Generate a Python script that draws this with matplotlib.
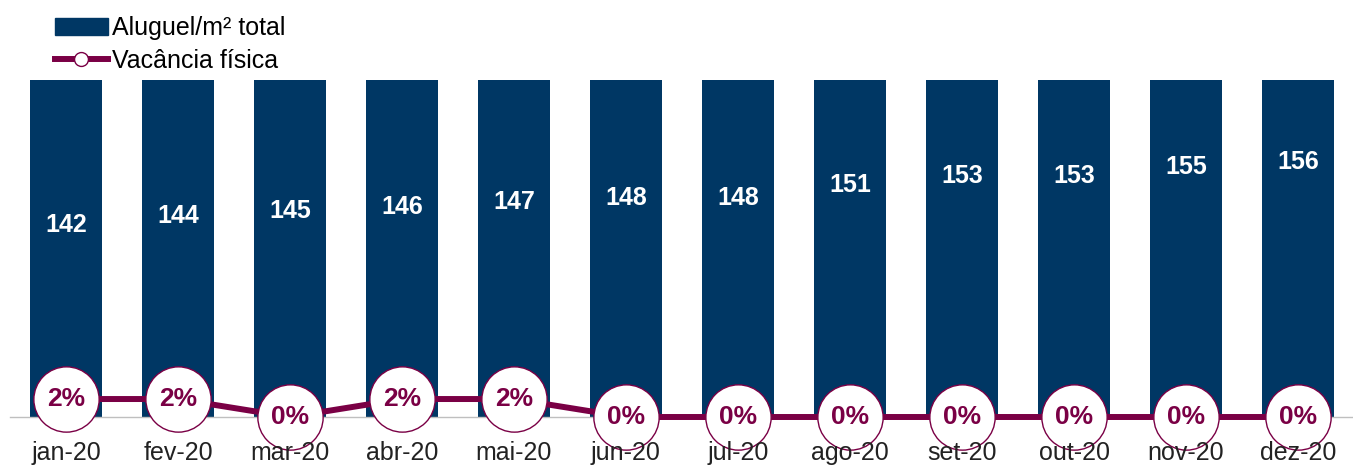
import numpy as np
import matplotlib.pyplot as plt
from matplotlib.patches import Patch
from matplotlib.lines import Line2D

plt.rcParams['font.family'] = ['Liberation Sans', 'DejaVu Sans']

months = ['jan-20', 'fev-20', 'mar-20', 'abr-20', 'mai-20', 'jun-20',
          'jul-20', 'ago-20', 'set-20', 'out-20', 'nov-20', 'dez-20']
aluguel = [142, 144, 145, 146, 147, 148, 148, 151, 153, 153, 155, 156]
vacancia = [0.02, 0.02, 0.0, 0.02, 0.02, 0.0, 0.0, 0.0, 0.0, 0.0, 0.0, 0.0]

navy = '#003764'
purple = '#7A0045'

fig = plt.figure(figsize=(13.53, 4.67), dpi=100)
ax = fig.add_axes([10 / 1353, 50 / 467, 1344 / 1353, 337 / 467])
x = np.arange(len(months))

ax.bar(x, aluguel, width=0.634, color=navy)
ax.set_ylim(98, 136)
ax.set_xlim(-0.5, len(months) - 0.5)
ymin = ax.get_ylim()[0]
for xi, v in zip(x, aluguel):
    ax.text(xi, (ymin + v) / 2 - 0.3, f'{v}', ha='center', va='center',
            color='white', fontsize=18, fontweight='bold')

for s in ['top', 'right', 'left']:
    ax.spines[s].set_visible(False)
ax.spines['bottom'].set_color('#BFBFBF')
ax.spines['bottom'].set_linewidth(1)
ax.set_yticks([])
ax.tick_params(axis='x', length=0, labelbottom=False)

ax2 = ax.twinx()
ax2.plot(x, vacancia, color=purple, lw=4.3, marker='o', markersize=47,
         markerfacecolor='white', markeredgecolor=purple, markeredgewidth=1,
         clip_on=False, zorder=3)
ax2.set_ylim(0, 0.375)
for xi, v in zip(x, vacancia):
    ax2.text(xi, v, f'{v:.0%}', ha='center', va='center', color=purple,
             fontsize=19, fontweight='bold', zorder=5, clip_on=False)
for s in ax2.spines.values():
    s.set_visible(False)
ax2.set_yticks([])
ax2.xaxis.set_visible(True)
ax2.xaxis.set_zorder(6)
ax2.set_xticks(x)
ax2.set_xticklabels(months, fontsize=18, color='#222222')
ax2.tick_params(axis='x', length=0, pad=17)

handles = [Patch(color=navy, label='Aluguel/m² total'),
           Line2D([], [], color=purple, lw=4.3, marker='o', markersize=10,
                  markerfacecolor='white', markeredgecolor=purple,
                  label='Vacância física')]
fig.legend(handles=handles, loc='upper left', bbox_to_anchor=(45 / 1353, 1 - 6 / 467),
           frameon=False, fontsize=18, handlelength=2.1, handletextpad=0.2,
           labelspacing=0.35, borderaxespad=0)

fig.savefig('out.png', dpi=100)
